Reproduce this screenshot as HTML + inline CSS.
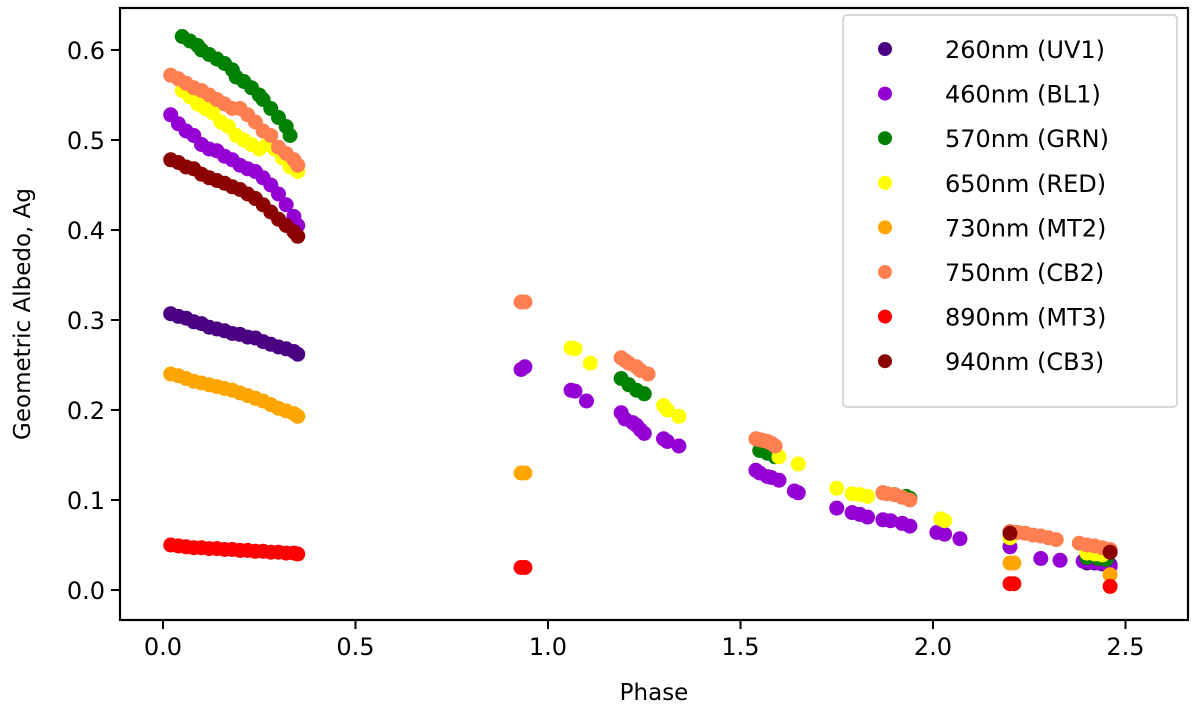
<!DOCTYPE html>
<html><head><meta charset="utf-8"><style>
html,body{margin:0;padding:0;background:#fff;}
svg{display:block;font-family:"DejaVu Sans","Liberation Sans",sans-serif;}
</style></head><body>
<svg id="chart" width="1200" height="712" viewBox="0 0 1200 712">
<g id="marks"></g>
<rect x="120" y="8" width="1068" height="612" fill="none" stroke="#000" stroke-width="2.2"/>
<g id="xticks"></g>
<g id="yticks"></g>
<text x="654" y="700" text-anchor="middle" font-size="23">Phase</text>
<text transform="translate(30,314) rotate(-90)" text-anchor="middle" font-size="23">Geometric Albedo, Ag</text>
<g id="legend"></g>
</svg>
<script>
const xTicks=[0.0,0.5,1.0,1.5,2.0,2.5];
const xTickLabels=["0.0","0.5","1.0","1.5","2.0","2.5"];
const yTicks=[0.0,0.1,0.2,0.3,0.4,0.5,0.6];
const yTickLabels=["0.0","0.1","0.2","0.3","0.4","0.5","0.6"];
const seriesNames=["260nm (UV1)","460nm (BL1)","570nm (GRN)","650nm (RED)","730nm (MT2)","750nm (CB2)","890nm (MT3)","940nm (CB3)"];
const seriesColors=["#4b0082","#9400d3","#008000","#ffff00","#ffa500","#ff7f50","#ff0000","#8b0000"];
const earlyPhase=[0.02,0.04,0.06,0.08,0.10,0.12,0.14,0.16,0.18,0.20,0.22,0.24,0.26,0.28,0.30,0.32,0.34,0.35];
const uv1Phase=earlyPhase.concat([2.40,2.42,2.44,2.46]);
const uv1Albedo=[0.307,0.304,0.302,0.298,0.296,0.292,0.290,0.288,0.285,0.284,0.281,0.280,0.276,0.273,0.270,0.268,0.265,0.262,0.030,0.030,0.029,0.028];
const bl1Phase=earlyPhase.concat([0.93,0.94,1.06,1.07,1.10,1.19,1.20,1.22,1.23,1.24,1.25,1.30,1.31,1.34,1.54,1.55,1.57,1.58,1.60,1.64,1.65,1.75,1.79,1.81,1.83,1.87,1.89,1.92,1.94,2.01,2.03,2.07,2.20,2.28,2.33,2.39,2.41,2.43,2.45,2.46]);
const bl1Albedo=[0.528,0.518,0.510,0.505,0.495,0.490,0.488,0.482,0.478,0.472,0.468,0.465,0.458,0.450,0.440,0.428,0.415,0.405,0.245,0.248,0.222,0.221,0.210,0.197,0.190,0.186,0.183,0.178,0.174,0.168,0.165,0.160,0.133,0.130,0.126,0.125,0.122,0.110,0.108,0.091,0.086,0.084,0.081,0.078,0.077,0.074,0.071,0.064,0.062,0.057,0.048,0.035,0.033,0.032,0.031,0.030,0.029,0.026];
const grnPhase=[0.05,0.07,0.09,0.10,0.12,0.14,0.16,0.18,0.19,0.21,0.23,0.25,0.26,0.28,0.30,0.32,0.33,1.19,1.21,1.23,1.25,1.55,1.57,1.59,1.87,1.90,1.93,1.94,2.40,2.43,2.45];
const grnAlbedo=[0.615,0.610,0.605,0.600,0.595,0.590,0.585,0.578,0.570,0.565,0.558,0.550,0.545,0.535,0.525,0.515,0.505,0.235,0.228,0.222,0.218,0.155,0.152,0.148,0.108,0.106,0.104,0.102,0.036,0.035,0.034];
const redPhase=[0.05,0.07,0.09,0.11,0.13,0.15,0.17,0.19,0.21,0.23,0.25,0.27,0.29,0.31,0.33,0.35,1.06,1.07,1.11,1.30,1.31,1.34,1.60,1.65,1.75,1.79,1.81,1.83,2.02,2.03,2.20,2.40,2.42,2.44];
const redAlbedo=[0.555,0.548,0.540,0.535,0.530,0.520,0.515,0.505,0.500,0.495,0.490,0.495,0.490,0.480,0.470,0.465,0.269,0.268,0.252,0.205,0.200,0.193,0.148,0.140,0.113,0.107,0.106,0.104,0.079,0.077,0.058,0.041,0.040,0.039];
const mt2Phase=earlyPhase.concat([0.93,0.94,2.20,2.21,2.46]);
const mt2Albedo=[0.240,0.238,0.235,0.232,0.230,0.228,0.226,0.224,0.222,0.219,0.216,0.213,0.210,0.206,0.202,0.199,0.196,0.193,0.130,0.130,0.030,0.030,0.017];
const cb2Phase=earlyPhase.concat([0.93,0.94,1.19,1.20,1.21,1.23,1.24,1.26,1.54,1.55,1.56,1.57,1.58,1.59,1.87,1.88,1.90,1.92,1.94,2.20,2.22,2.24,2.26,2.28,2.30,2.32,2.38,2.40,2.42,2.44,2.46]);
const cb2Albedo=[0.572,0.568,0.563,0.558,0.555,0.550,0.545,0.540,0.535,0.535,0.528,0.520,0.510,0.505,0.492,0.485,0.478,0.472,0.320,0.320,0.258,0.255,0.252,0.248,0.244,0.240,0.168,0.167,0.166,0.165,0.163,0.160,0.108,0.107,0.106,0.103,0.100,0.065,0.064,0.063,0.061,0.060,0.058,0.056,0.052,0.050,0.049,0.047,0.045];
const mt3Phase=earlyPhase.concat([0.93,0.94,2.20,2.21,2.46]);
const mt3Albedo=[0.050,0.049,0.048,0.047,0.047,0.046,0.046,0.045,0.045,0.044,0.044,0.043,0.043,0.042,0.042,0.041,0.041,0.040,0.025,0.025,0.007,0.007,0.004];
const cb3Phase=earlyPhase.concat([2.20,2.46]);
const cb3Albedo=[0.478,0.475,0.470,0.468,0.462,0.458,0.455,0.452,0.448,0.445,0.440,0.435,0.428,0.420,0.412,0.405,0.398,0.393,0.063,0.042];

const allPhase=[uv1Phase,bl1Phase,grnPhase,redPhase,mt2Phase,cb2Phase,mt3Phase,cb3Phase];
const allAlbedo=[uv1Albedo,bl1Albedo,grnAlbedo,redAlbedo,mt2Albedo,cb2Albedo,mt3Albedo,cb3Albedo];
const NS="http://www.w3.org/2000/svg";
function xScale(v){return 163+v*385;}
function yScale(v){return 590-v*900;}
function mk(tag,attrs,parent){const e=document.createElementNS(NS,tag);for(const k in attrs)e.setAttribute(k,attrs[k]);parent.appendChild(e);return e;}
const marks=document.getElementById('marks');
allPhase.forEach((ph,s)=>{
  const g=mk('g',{},marks);
  
  
  ph.forEach((p,i)=>{
    const c=mk('circle',{cx:xScale(p),cy:yScale(allAlbedo[s][i]),r:7.5,fill:seriesColors[s]},g);
    
    
  });
});
const xt=document.getElementById('xticks');
xTicks.forEach((t,i)=>{
  const x=xScale(t);
  mk('line',{x1:x,y1:620,x2:x,y2:629,stroke:'#000','stroke-width':2},xt);
  const tx=mk('text',{x:x,y:655,'text-anchor':'middle','font-size':24},xt);
  tx.textContent=xTickLabels[i];
  
  
});
const yt=document.getElementById('yticks');
yTicks.forEach((t,i)=>{
  const y=yScale(t);
  mk('line',{x1:111,y1:y,x2:120,y2:y,stroke:'#000','stroke-width':2},yt);
  const tx=mk('text',{x:105,y:y+9,'text-anchor':'end','font-size':24},yt);
  tx.textContent=yTickLabels[i];
  
  
});
const lg=document.getElementById('legend');
mk('rect',{x:843,y:15,width:334,height:392,rx:4,fill:'#fff',stroke:'#ccc','stroke-width':1.5},lg);
seriesNames.forEach((n,i)=>{
  const y=49+i*44.6;
  const g=mk('g',{},lg);
  
  
  mk('circle',{cx:885,cy:y,r:7,fill:seriesColors[i]},g);
  const tx=mk('text',{x:945,y:y+9,'font-size':24},g);
  tx.textContent=n;
});
</script>
</body></html>
